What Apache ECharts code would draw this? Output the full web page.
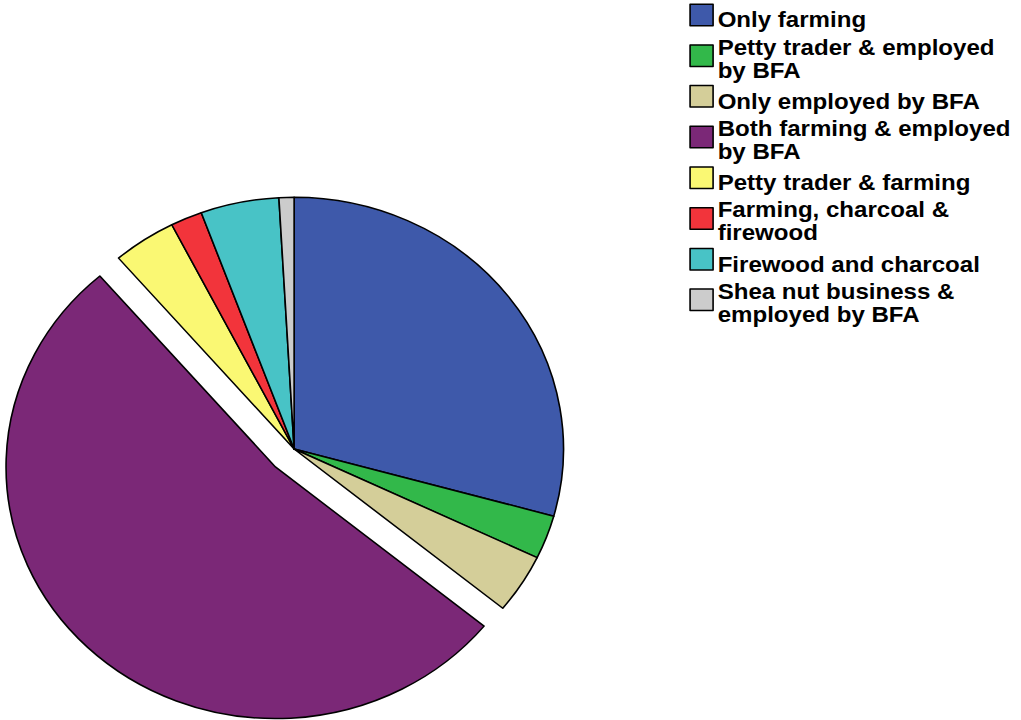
<!DOCTYPE html>
<html>
<head>
<meta charset="utf-8">
<script src="https://cdn.jsdelivr.net/npm/echarts@6/dist/echarts.min.js"></script>
<style>
  html, body { margin: 0; padding: 0; background: #fff; overflow: hidden; }
  #wrap { width: 1021px; height: 720px; overflow: hidden; }
  /* the figure is drawn slightly wider than tall */
  #chart { width: 954px; height: 720px; transform: scaleX(1.0703); transform-origin: 0 0; }
</style>
</head>
<body>
<div id="wrap"><div id="chart"></div></div>
<script>
// Occupation of respondents (% of households)
const categories = [
  'Only farming',
  'Petty trader & employed\nby BFA',
  'Only employed by BFA',
  'Both farming & employed\nby BFA',
  'Petty trader & farming',
  'Farming, charcoal &\nfirewood',
  'Firewood and charcoal',
  'Shea nut business &\nemployed by BFA'
];
const shares = [29.3, 2.8, 3.8, 52.8, 3.8, 1.9, 4.7, 0.9];
const highlighted = 'Both farming & employed\nby BFA';

const palette = ['#3E59AA', '#32B84A', '#D4CE99', '#7B2877', '#FAF873', '#F2343B', '#48C3C6', '#CCCCCC'];

const SWATCH = 21.5;
const LINE_H = 23;
const LEGEND_LEFT = 644;

const labelFont = {
  fontFamily: '"Liberation Sans", Arial, sans-serif',
  fontWeight: 'bold',
  fontSize: 22.5,
  lineHeight: LINE_H,
  color: '#000'
};

// each entry gets an equal slot; swatch and caption are laid out separately
const swatchLegends = [];
const captionLegends = [];
categories.forEach((name, i) => {
  const lines = name.split('\n').length;
  const slotCenter = 14.2 + 40.7 * i;
  const captionCenter = slotCenter + (lines > 1 ? 3.5 : 5.5);
  swatchLegends.push({
    data: [name],
    left: LEGEND_LEFT,
    top: slotCenter - SWATCH / 2,
    padding: 0,
    icon: 'rect',
    itemWidth: SWATCH,
    itemHeight: SWATCH,
    selectedMode: false,
    formatter: () => '',
    itemStyle: { borderColor: '#000', borderWidth: 1.5 },
    textStyle: { fontSize: 1, lineHeight: 1 }
  });
  captionLegends.push({
    data: [name],
    left: LEGEND_LEFT,
    top: captionCenter - (lines * LINE_H) / 2,
    padding: 0,
    icon: 'rect',
    itemWidth: SWATCH,
    itemHeight: SWATCH,
    selectedMode: false,
    itemStyle: { opacity: 0, borderWidth: 0 },
    textStyle: labelFont
  });
});

const chart = echarts.init(document.getElementById('chart'), null, { renderer: 'svg' });
chart.setOption({
  animation: false,
  color: palette,
  legend: swatchLegends.concat(captionLegends),
  series: [{
    type: 'pie',
    center: [274.8, 449],
    radius: 251.7,
    startAngle: 90,
    clockwise: true,
    selectedMode: 'single',
    selectedOffset: 25,
    avoidLabelOverlap: false,
    label: { show: false },
    labelLine: { show: false },
    emphasis: { disabled: true },
    itemStyle: { borderColor: '#000', borderWidth: 1.5 },
    data: categories.map((name, i) => ({
      name: name,
      value: shares[i],
      selected: name === highlighted
    }))
  }]
});
</script>
</body>
</html>
